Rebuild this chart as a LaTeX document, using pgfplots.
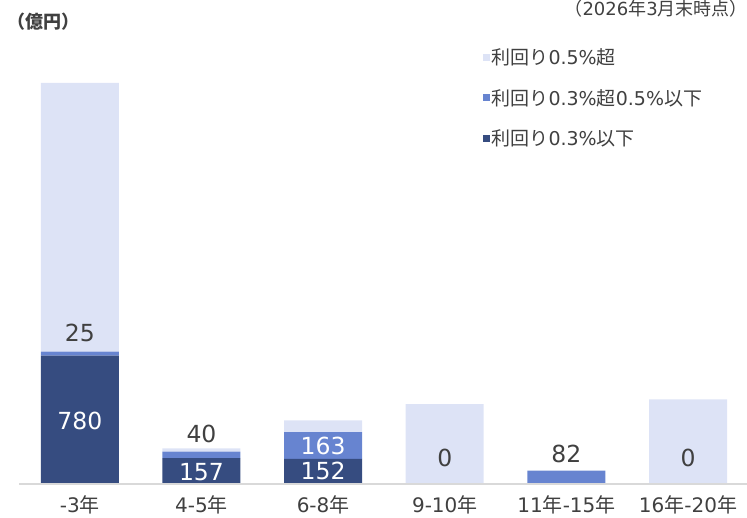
\documentclass[border=0pt]{standalone}
\usepackage{fontspec}
\setmainfont{Noto Sans CJK JP}
\newfontfamily\lat{DejaVu Sans}
\usepackage{pgfplots}
\pgfplotsset{compat=1.18}
\definecolor{cLight}{RGB}{221,227,246}
\definecolor{cMid}{RGB}{103,132,208}
\definecolor{cDark}{RGB}{54,76,128}
\definecolor{txt}{RGB}{64,64,64}
\definecolor{baseGray}{RGB}{217,217,217}
\newcommand{\lblfont}{\fontsize{23.5bp}{27bp}\selectfont\lat}
\begin{document}
\begin{tikzpicture}[x=1bp,y=1bp]
\useasboundingbox (0,0) rectangle (747,518);
\node[text=txt,font=\fontsize{18bp}{21bp}\selectfont\bfseries] at (43,496) {（億円）};
\node[text=txt,font=\fontsize{18bp}{21bp}\selectfont,anchor=north east,inner sep=0pt] at (748,518) {（{\lat 2026}年{\lat 3}月末時点）};
\begin{axis}[
  at={(19bp,34bp)}, anchor=south west,
  scale only axis, width=728bp, height=484bp,
  xmin=-0.5, xmax=5.485, ymin=0, ymax=2942,
  ybar stacked, bar width=78bp,
  axis line style={draw=none},
  ytick=\empty,
  xtick={0,1,2,3,4,5},
  xticklabels={{{\lat -3}年},{{\lat 4-5}年},{{\lat 6-8}年},{{\lat 9-10}年},{{\lat 11}年{\lat -15}年},{{\lat 16}年{\lat -20}年}},
  major tick length=0pt,
  x tick label style={font=\fontsize{20bp}{24bp}\selectfont, text=txt, anchor=center, yshift=-21bp},
  clip=false,
  reverse legend,
  legend image code/.code={\fill[#1] (0bp,-3.5bp) rectangle (7bp,3.5bp);},
  legend style={at={(0.633,0.907)}, anchor=north west, draw=none, fill=none,
    font=\fontsize{19bp}{22bp}\selectfont, text=txt, row sep=20bp,
    nodes={inner sep=1.5bp}},
  legend cell align=left,
]
\addplot[fill=cDark, draw=none] coordinates {(0,780) (1,157) (2,152) (3,0) (4,0) (5,0)};
\addlegendentry{利回り{\lat 0.3\%}以下}
\addplot[fill=cMid, draw=none] coordinates {(0,25) (1,40) (2,163) (3,0) (4,82) (5,0)};
\addlegendentry{利回り{\lat 0.3\%}超{\lat 0.5\%}以下}
\addplot[fill=cLight, draw=none] coordinates {(0,1633) (1,20) (2,71) (3,485) (4,0) (5,515)};
\addlegendentry{利回り{\lat 0.5\%}超}
\coordinate (bl) at (axis cs:-0.5,0);
\coordinate (br) at (axis cs:5.485,0);
\coordinate (a1) at (axis cs:0,383);
\coordinate (a2) at (axis cs:0,918);
\coordinate (b1) at (axis cs:1,73);
\coordinate (b2) at (axis cs:1,304);
\coordinate (c1) at (axis cs:2,81);
\coordinate (c2) at (axis cs:2,231);
\coordinate (d1) at (axis cs:3,158);
\coordinate (e1) at (axis cs:4,182);
\coordinate (f1) at (axis cs:5,158);
\end{axis}
\draw[baseGray, line width=1.5bp] (bl) -- (br);
\node[text=white,font=\lblfont] at (a1) {780};
\node[text=txt,font=\lblfont] at (a2) {25};
\node[text=white,font=\lblfont] at (b1) {157};
\node[text=txt,font=\lblfont] at (b2) {40};
\node[text=white,font=\lblfont] at (c1) {152};
\node[text=white,font=\lblfont] at (c2) {163};
\node[text=txt,font=\lblfont] at (d1) {0};
\node[text=txt,font=\lblfont] at (e1) {82};
\node[text=txt,font=\lblfont] at (f1) {0};
\end{tikzpicture}
\end{document}
